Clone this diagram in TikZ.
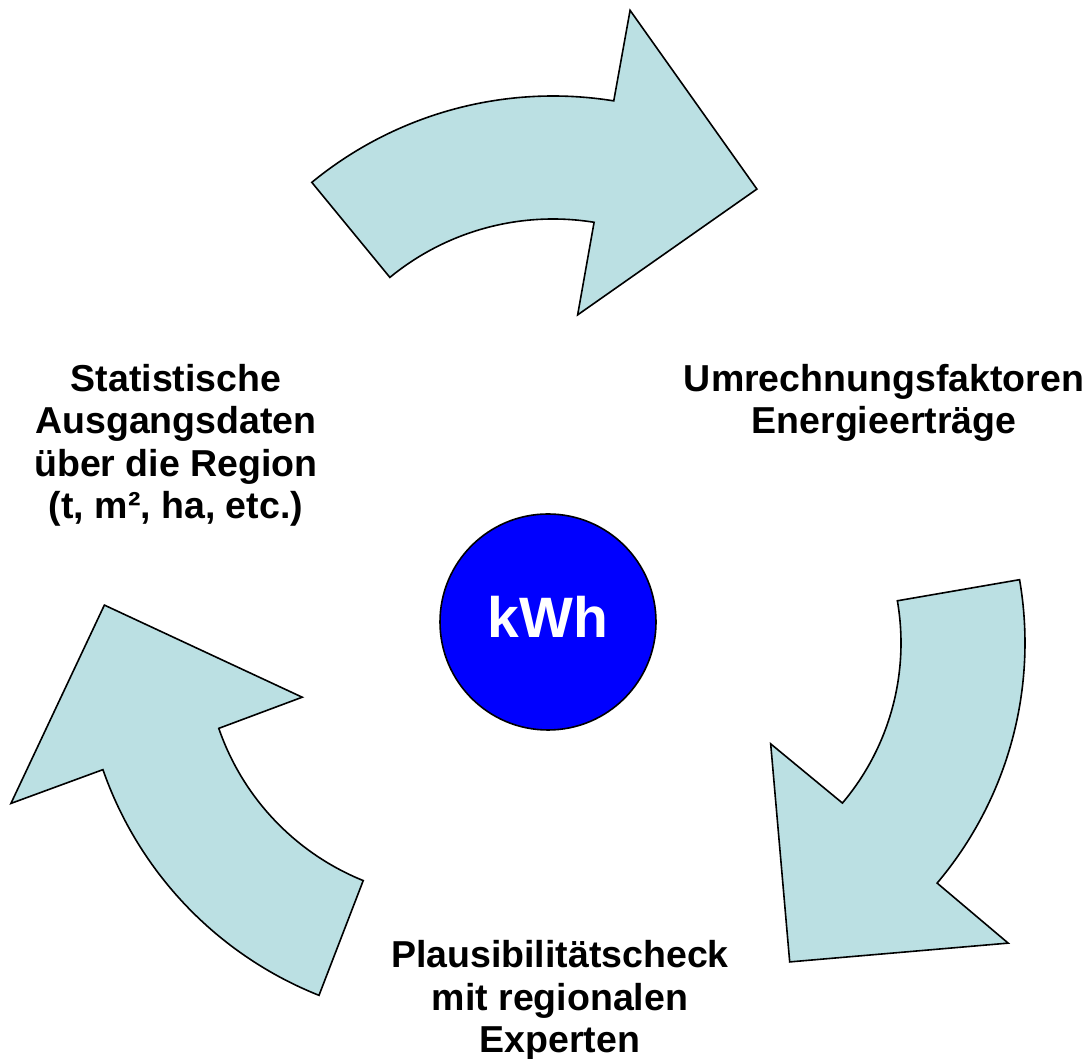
\documentclass[tikz,border=0pt]{standalone}
\usepackage{fontspec}
\setmainfont{Liberation Sans}
\usetikzlibrary{calc}
\definecolor{arrowfill}{RGB}{187,224,227}
\definecolor{kwhblue}{RGB}{0,0,255}
\begin{document}
\begin{tikzpicture}[x=1pt,y=1pt,
  cyclearrow/.style={draw=black,line width=1.6pt,line join=miter,fill=arrowfill},
  label/.style={align=center,inner sep=0pt,anchor=base,font=\fontsize{37.5}{42.5}\selectfont\bfseries},
  hub/.style={circle,draw=black,line width=1.6pt,fill=kwhblue,minimum size=216pt,inner sep=0pt}]
\useasboundingbox (0,0) rectangle (1086,1059);

% top arrow
\coordinate (ct) at (553,583);
\draw[cyclearrow] ($(ct)+(129.4:380pt)$) arc[start angle=129.4,end angle=80.8,radius=380pt]
  -- ($(ct)+(80.6:472pt)$) -- ($(ct)+(54.6:352pt)$) -- ($(ct)+(81.3:163pt)$)
  -- ($(ct)+(80.8:257pt)$) arc[start angle=80.8,end angle=129.4,radius=257pt] -- cycle;

% right arrow
\coordinate (cr) at (653,416);
\draw[cyclearrow] ($(cr)+(9.8:372pt)$) arc[start angle=9.8,end angle=-40.2,radius=372pt]
  -- ($(cr)+(-40.2:465pt)$) -- ($(cr)+(-66.8:347pt)$) -- ($(cr)+(-40.6:155pt)$)
  -- ($(cr)+(-40.2:248pt)$) arc[start angle=-40.2,end angle=9.8,radius=248pt] -- cycle;

% left arrow
\coordinate (cl) at (458,413);
\draw[cyclearrow] ($(cl)+(248.3:376pt)$) arc[start angle=248.3,end angle=199.2,radius=376pt]
  -- ($(cl)+(199.4:474pt)$) -- ($(cl)+(173.4:356pt)$) -- ($(cl)+(198.2:164pt)$)
  -- ($(cl)+(199.0:253pt)$) arc[start angle=199.0,end angle=248.0,radius=253pt] -- cycle;

% hub
\node[hub] (kwh) at (548,437) {};
\node[inner sep=0pt,anchor=base,text=white,font=\fontsize{57}{60}\selectfont\bfseries] (kwhtext) at (548,421) {kWh};

% labels (anchor = baseline of the last line)
\node[label] (stat) at (176,540) {Statistische\\Ausgangsdaten\\über die Region\\(t, m², ha, etc.)};
\node[label] (umr) at (884,625) {Umrechnungsfaktoren\\Energieerträge};
\node[label] (plaus) at (560,6) {Plausibilitätscheck\\mit regionalen\\Experten};
\end{tikzpicture}
\end{document}
